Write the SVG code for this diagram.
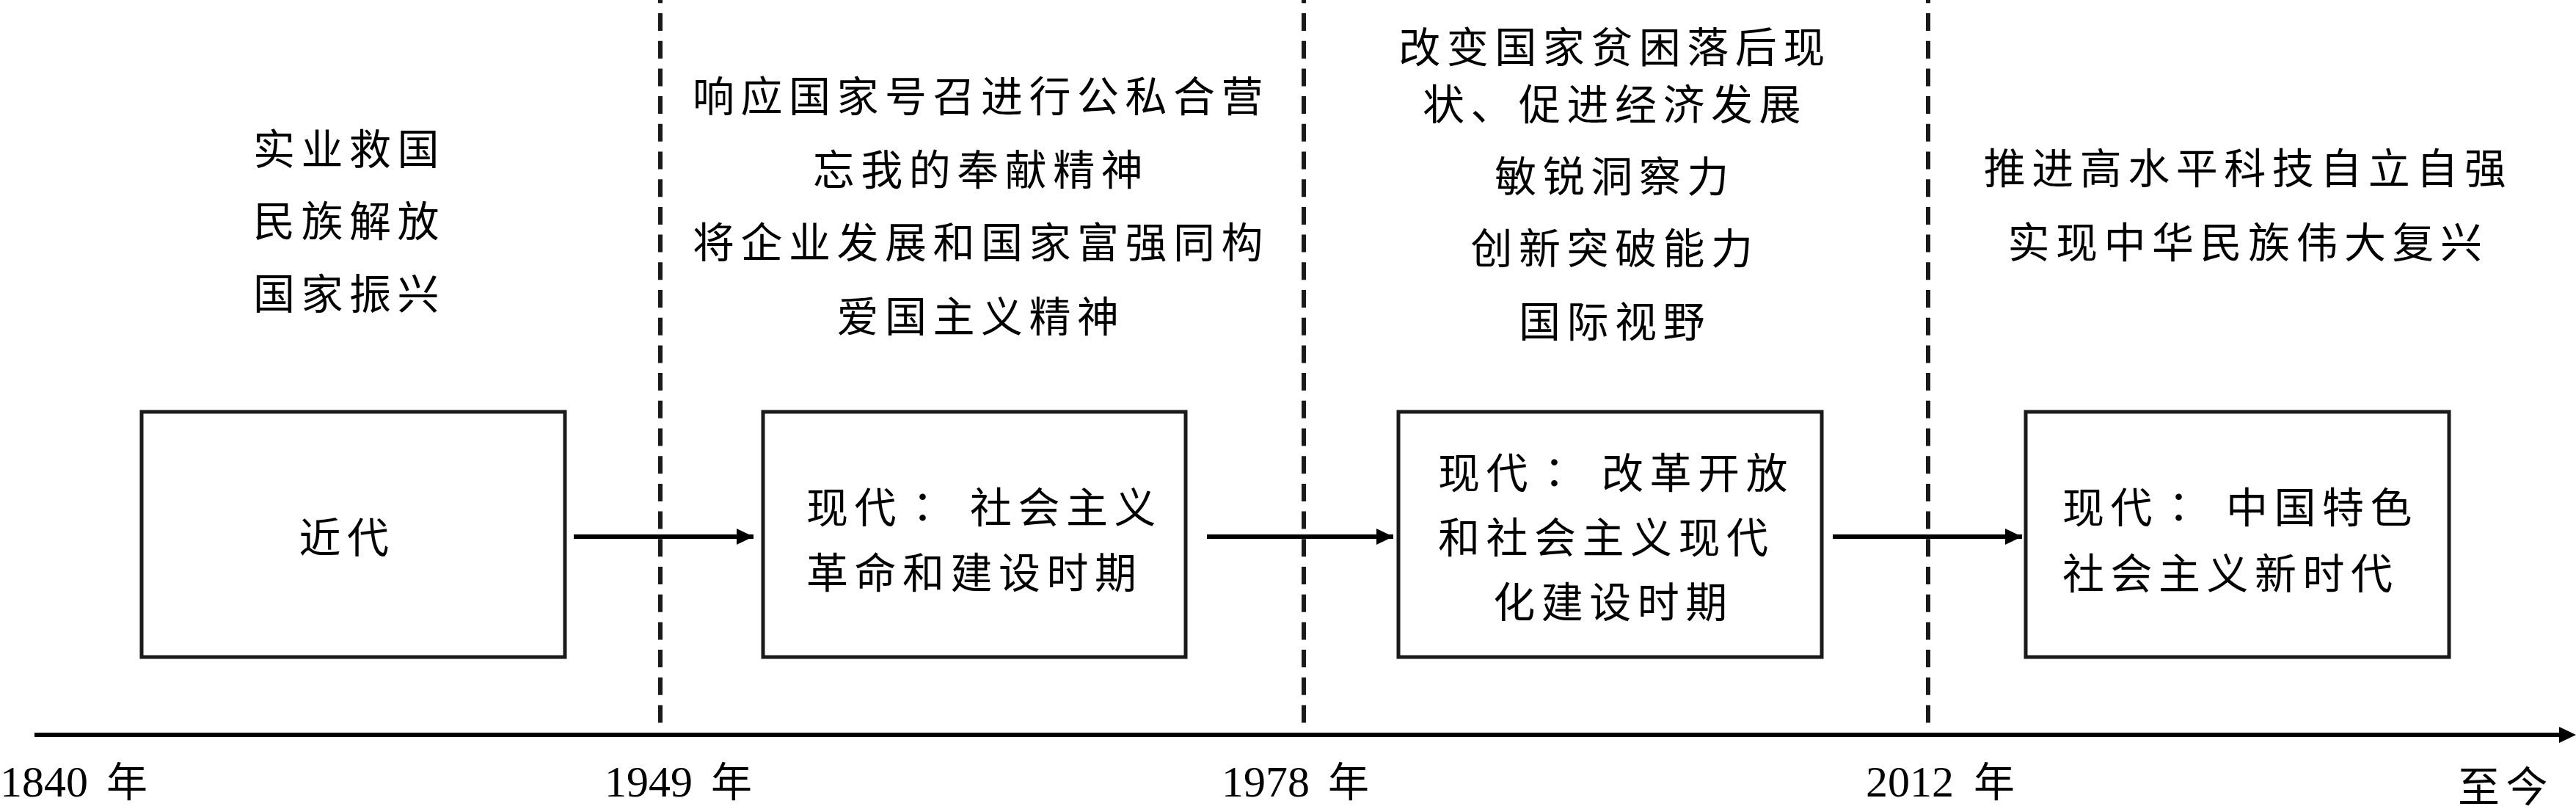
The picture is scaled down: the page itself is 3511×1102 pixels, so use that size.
<svg xmlns="http://www.w3.org/2000/svg" width="3511" height="1102" viewBox="0 0 3511 1102">
<style>
.t { font-family: "Noto Sans CJK SC", "Noto Sans CJK TC", sans-serif; font-size: 57px; letter-spacing: 8.5px; fill: #000; }
.m { text-anchor: middle; }
.num { font-family: "Liberation Serif", "Noto Sans CJK SC", serif; font-size: 60px; fill: #000; }
.nian { font-family: "Noto Sans CJK SC", sans-serif; font-size: 56px; }
.colon { font-family: "Noto Sans CJK TC", "Noto Sans CJK SC", sans-serif; letter-spacing: 0; }
.box { fill: #fff; stroke: #1a1a1a; stroke-width: 5; }
.dash { stroke: #1a1a1a; stroke-width: 6; stroke-dasharray: 24 13.7; stroke-dashoffset: 19.7; fill: none; }
.conn { stroke: #000; stroke-width: 6; fill: none; }
</style>
<defs>
<marker id="ah" markerUnits="userSpaceOnUse" markerWidth="24" markerHeight="24" refX="23" refY="11" orient="auto">
<path d="M0,0 L23,11 L0,22 Z" fill="#000"/>
</marker>
</defs>
<rect width="3511" height="1102" fill="#fff"/>

<g id="timeline">
<line class="dash" x1="900" y1="0" x2="900" y2="987"/>
<line class="dash" x1="1777" y1="0" x2="1777" y2="987"/>
<line class="dash" x1="2628" y1="0" x2="2628" y2="987"/>
<line x1="47" y1="1001" x2="3490" y2="1001" stroke="#000" stroke-width="6"/>
<path d="M3488,990 L3511,1001 L3488,1012 Z" fill="#000"/>
<text class="num" x="0" y="1085">1840<tspan class="nian" x="145">年</tspan></text>
<text class="num" x="824" y="1085">1949<tspan class="nian" x="969">年</tspan></text>
<text class="num" x="1665" y="1085">1978<tspan class="nian" x="1810">年</tspan></text>
<text class="num" x="2543" y="1085">2012<tspan class="nian" x="2690">年</tspan></text>
<text class="t" x="3350" y="1092" font-size="56">至今</text>
</g>

<g id="notes-1840">
<text class="t m" x="476" y="224">实业救国</text>
<text class="t m" x="476" y="322">民族解放</text>
<text class="t m" x="476" y="421">国家振兴</text>
</g>

<g id="notes-1949">
<text class="t m" x="1337" y="152">响应国家号召进行公私合营</text>
<text class="t m" x="1337" y="252">忘我的奉献精神</text>
<text class="t m" x="1337" y="351">将企业发展和国家富强同构</text>
<text class="t m" x="1337" y="452">爱国主义精神</text>
</g>

<g id="notes-1978">
<text class="t m" x="2201" y="85">改变国家贫困落后现</text>
<text class="t m" x="2201" y="163">状、促进经济发展</text>
<text class="t m" x="2201" y="261">敏锐洞察力</text>
<text class="t m" x="2201" y="359">创新突破能力</text>
<text class="t m" x="2201" y="459">国际视野</text>
</g>

<g id="notes-2012">
<text class="t m" x="3064" y="250">推进高水平科技自立自强</text>
<text class="t m" x="3064" y="351">实现中华民族伟大复兴</text>
</g>

<g id="node-jindai">
<rect class="box" x="193" y="561" width="577" height="334"/>
<text class="t m" x="473" y="753">近代</text>
</g>

<g id="node-socialist-revolution">
<rect class="box" x="1040" y="561" width="576" height="334"/>
<text class="t" x="1099" y="712">现代<tspan class="colon" x="1229">：</tspan><tspan x="1322">社会主义</tspan></text>
<text class="t" x="1099" y="801">革命和建设时期</text>
</g>

<g id="node-reform-opening">
<rect class="box" x="1906" y="561" width="577" height="334"/>
<text class="t" x="1960" y="665">现代<tspan class="colon" x="2090">：</tspan><tspan x="2183">改革开放</tspan></text>
<text class="t" x="1960" y="753">和社会主义现代</text>
<text class="t m" x="2199" y="841">化建设时期</text>
</g>

<g id="node-new-era">
<rect class="box" x="2761" y="561" width="577" height="334"/>
<text class="t" x="2811" y="712">现代<tspan class="colon" x="2941">：</tspan><tspan x="3034">中国特色</tspan></text>
<text class="t" x="2811" y="802">社会主义新时代</text>
</g>

<g id="connectors">
<line class="conn" x1="782" y1="731" x2="1027" y2="731" marker-end="url(#ah)"/>
<line class="conn" x1="1645" y1="731" x2="1899" y2="731" marker-end="url(#ah)"/>
<line class="conn" x1="2498" y1="731" x2="2756" y2="731" marker-end="url(#ah)"/>
</g>
</svg>
